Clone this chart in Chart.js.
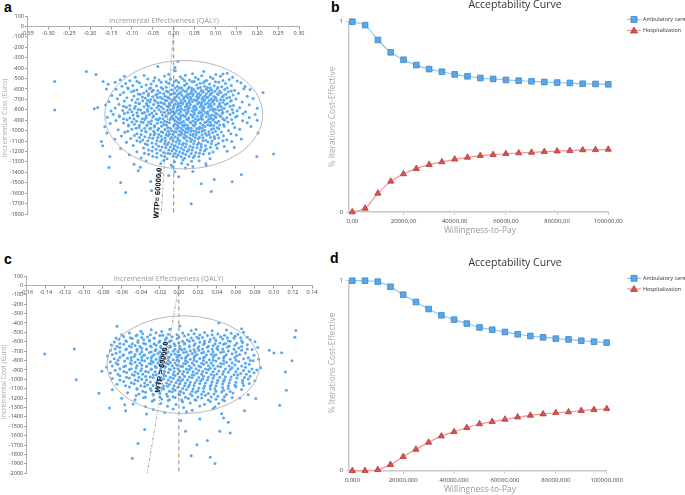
<!DOCTYPE html>
<html>
<head>
<meta charset="utf-8">
<script src="https://cdn.jsdelivr.net/npm/chart.js@4.4.1/dist/chart.umd.min.js"></script>
<style>
  body { margin: 0; width: 685px; height: 495px; overflow: hidden; background: #fff; position: relative; }
  canvas { position: absolute; }
  .panel { position: absolute; font: bold 14px "Liberation Sans", Arial, sans-serif; line-height: 14px; color: #000; }
</style>
</head>
<body>
<div class="panel" style="left:4px;top:0px">a</div>
<div class="panel" style="left:331px;top:0px">b</div>
<div class="panel" style="left:4px;top:252px">c</div>
<div class="panel" style="left:330px;top:251px">d</div>
<canvas id="scatterA" width="320" height="240" style="left:0;top:0"></canvas>
<canvas id="scatterC" width="330" height="240" style="left:0;top:255px"></canvas>
<canvas id="curveB" width="385" height="245" style="left:300px;top:0"></canvas>
<canvas id="curveD" width="385" height="245" style="left:300px;top:250px"></canvas>
<script>
// Dados
const FONT = '"Open Sans", "Noto Sans", sans-serif';

// a - plano custo-efetividade (efeito QALY, custo Euro)
const xTicksA = [-0.35, -0.30, -0.25, -0.20, -0.15, -0.10, -0.05, 0.00, 0.05, 0.10, 0.15, 0.20, 0.25, 0.30];
const yTicksA = [100, 0, -100, -200, -300, -400, -500, -600, -700, -800, -900, -1000, -1100, -1200, -1300, -1400, -1500, -1600, -1700, -1800];
const ellipseA = { cx: 0.024, cy: -847, rx: 0.189, ry: 520 };
const wtpLineA = [[0, 0], [-0.03, -1800]];
const zeroLineA = [[0, 0], [0, -1800]];
const pointsA = [
  [0.010,-336],[-0.038,-384],[0.003,-395],[-0.209,-432],[-0.186,-462],[0.072,-432],[0.004,-425],
  [-0.285,-528],[-0.285,-802],[-0.19,-790],[-0.182,-778],[-0.169,-528],[-0.161,-600],[-0.157,-555],
  [-0.173,-1104],[-0.170,-1145],[-0.153,-1248],[-0.155,-1353],[-0.127,-1497],[-0.115,-1593],
  [-0.085,-1385],[-0.055,-1487],[-0.053,-1575],[-0.035,-1415],[0.042,-1701],[0.066,-1510],[0.090,-1583],
  [0.097,-1470],[0.140,-1490],[0.162,-1423],[0.199,-1248],[0.239,-1225],[0.214,-633],[0.202,-1023],
  [0.046,-1391],[0.078,-1337],[-0.012,-1430],[0.012,-1442],[-0.035,-1385],[0.003,-1395],
  [-0.118,-478],[-0.092,-488],[-0.071,-470],[-0.045,-492],[-0.022,-476],[0.016,-482],[0.028,-468],[0.052,-490],
  [0.067,-474],[0.088,-485],[0.101,-462],[0.112,-478],[0.118,-456],[0.128,-450],[0.141,-488],[-0.012,-458],[0.045,-455],
  [-0.128,-512],[-0.105,-522],[-0.062,-505],[-0.035,-515],[-0.008,-508],[0.006,-520],[0.021,-503],[0.038,-514],
  [0.059,-506],[0.079,-518],[0.094,-500],[0.133,-510],[0.152,-523],[-0.14,-535],
  [-0.115,-548],[-0.082,-540],[-0.054,-552],[-0.03,-536],[-0.012,-545],[0.012,-538],[0.031,-550],[0.044,-532],
  [0.063,-546],[0.071,-540],[0.086,-553],[0.108,-535],[0.124,-547],[0.161,-540],
  [-0.124,-574],[-0.098,-566],[-0.077,-580],[-0.066,-562],[-0.041,-572],[-0.018,-583],[-0.003,-565],[0.009,-577],
  [0.026,-568],[0.037,-581],[0.055,-563],[0.074,-575],[0.081,-586],[0.097,-570],[0.115,-578],[0.138,-566],[0.171,-576],
  [-0.138,-604],[-0.109,-598],[-0.088,-610],[-0.058,-596],[-0.049,-612],[-0.026,-601],[-0.005,-607],[0.014,-594],
  [0.022,-611],[0.034,-599],[0.048,-606],[0.058,-593],[0.066,-615],[0.078,-602],[0.091,-609],[0.104,-597],
  [0.122,-605],[0.146,-612],[0.168,-598],[0.183,-606],
  [-0.12,-634],[-0.101,-627],[-0.072,-640],[-0.052,-625],[-0.033,-636],[-0.014,-629],[0.003,-642],[0.017,-631],
  [0.028,-623],[0.041,-638],[0.052,-628],[0.061,-644],[0.07,-632],[0.083,-625],[0.092,-639],[0.099,-621],
  [0.113,-635],[0.131,-628],[0.155,-641],
  [-0.148,-662],[-0.128,-655],[-0.095,-668],[-0.08,-652],[-0.061,-664],[-0.043,-658],[-0.021,-671],[-0.008,-654],
  [0.008,-666],[0.019,-657],[0.029,-669],[0.036,-651],[0.046,-663],[0.055,-674],[0.064,-656],[0.075,-667],
  [0.087,-659],[0.096,-672],[0.107,-653],[0.119,-665],[0.142,-658],[0.176,-670],
  [-0.135,-694],[-0.112,-685],[-0.086,-698],[-0.068,-688],[-0.055,-701],[-0.039,-683],[-0.027,-695],[-0.011,-689],
  [0.001,-702],[0.013,-686],[0.024,-697],[0.033,-681],[0.042,-693],[0.05,-704],[0.059,-687],[0.068,-699],
  [0.079,-684],[0.09,-696],[0.101,-690],[0.112,-703],[0.127,-686],[0.149,-697],[0.19,-692],
  [-0.155,-722],[-0.118,-716],[-0.091,-729],[-0.074,-713],[-0.057,-725],[-0.044,-718],[-0.031,-731],[-0.017,-714],
  [-0.004,-726],[0.006,-719],[0.016,-733],[0.027,-715],[0.037,-727],[0.045,-720],[0.053,-712],[0.062,-729],
  [0.072,-717],[0.081,-734],[0.093,-721],[0.104,-714],[0.118,-728],[0.136,-719],[0.164,-725],
  [-0.163,-754],[-0.131,-746],[-0.105,-758],[-0.083,-743],[-0.064,-755],[-0.048,-749],[-0.036,-762],[-0.022,-745],
  [-0.009,-757],[0.004,-748],[0.011,-761],[0.021,-744],[0.031,-756],[0.04,-750],[0.049,-763],[0.057,-742],
  [0.066,-755],[0.076,-747],[0.085,-759],[0.097,-744],[0.109,-756],[0.124,-749],[0.143,-760],[0.181,-752],
  [-0.14,-782],[-0.113,-775],[-0.094,-788],[-0.071,-772],[-0.053,-785],[-0.04,-778],[-0.025,-791],[-0.013,-774],
  [-0.001,-786],[0.009,-779],[0.019,-792],[0.028,-773],[0.038,-784],[0.047,-777],[0.055,-790],[0.063,-771],
  [0.073,-783],[0.083,-776],[0.094,-789],[0.106,-774],[0.121,-786],[0.158,-780],[0.2,-785],
  [-0.15,-812],[-0.122,-806],[-0.1,-818],[-0.079,-803],[-0.062,-815],[-0.046,-809],[-0.03,-821],[-0.016,-804],
  [-0.003,-816],[0.008,-808],[0.017,-822],[0.026,-805],[0.035,-817],[0.044,-810],[0.053,-802],[0.062,-819],
  [0.071,-807],[0.082,-820],[0.095,-811],[0.108,-804],[0.128,-816],[0.152,-809],[0.172,-818],
  [-0.145,-842],[-0.118,-836],[-0.097,-849],[-0.075,-833],[-0.058,-845],[-0.041,-838],[-0.027,-851],[-0.012,-834],
  [0.001,-846],[0.012,-839],[0.022,-852],[0.032,-835],[0.041,-847],[0.05,-840],[0.06,-832],[0.07,-849],
  [0.081,-837],[0.092,-850],[0.104,-841],[0.116,-834],[0.135,-846],[0.166,-839],[0.195,-845],
  [-0.159,-872],[-0.13,-866],[-0.105,-879],[-0.085,-863],[-0.066,-875],[-0.05,-868],[-0.034,-881],[-0.019,-864],
  [-0.006,-876],[0.006,-869],[0.016,-882],[0.026,-865],[0.036,-877],[0.046,-870],[0.057,-862],[0.067,-879],
  [0.078,-867],[0.089,-880],[0.101,-871],[0.113,-864],[0.127,-876],[0.148,-869],[0.181,-874],
  [-0.138,-902],[-0.112,-896],[-0.089,-909],[-0.069,-893],[-0.053,-905],[-0.037,-898],[-0.022,-911],[-0.009,-894],
  [0.004,-906],[0.014,-899],[0.024,-912],[0.035,-895],[0.046,-907],[0.058,-900],[0.069,-892],[0.081,-909],
  [0.094,-897],[0.108,-910],[0.122,-901],[0.139,-894],[0.165,-906],[0.2,-900],
  [-0.152,-932],[-0.12,-926],[-0.094,-939],[-0.073,-923],[-0.055,-935],[-0.039,-928],[-0.024,-941],[-0.01,-924],
  [0.003,-936],[0.015,-929],[0.027,-942],[0.04,-925],[0.052,-937],[0.064,-930],[0.076,-922],[0.089,-939],
  [0.103,-927],[0.119,-940],[0.142,-931],[0.176,-925],
  [-0.165,-962],[-0.108,-956],[-0.083,-969],[-0.064,-953],[-0.046,-965],[-0.029,-958],[-0.014,-971],[0.0,-954],
  [0.012,-966],[0.024,-959],[0.036,-972],[0.049,-955],[0.062,-967],[0.075,-960],[0.088,-952],[0.104,-969],
  [0.121,-957],[0.146,-970],[0.185,-961],
  [-0.133,-992],[-0.1,-986],[-0.077,-999],[-0.057,-983],[-0.038,-995],[-0.021,-988],[-0.005,-1001],[0.009,-984],
  [0.022,-996],[0.035,-989],[0.048,-1002],[0.061,-985],[0.074,-997],[0.09,-990],[0.108,-982],[0.131,-999],[0.158,-987],
  [-0.16,-1022],[-0.117,-1016],[-0.088,-1029],[-0.066,-1013],[-0.045,-1025],[-0.026,-1018],[-0.01,-1031],[0.006,-1014],
  [0.019,-1026],[0.033,-1019],[0.047,-1032],[0.06,-1015],[0.076,-1027],[0.093,-1020],[0.114,-1012],[0.137,-1029],
  [-0.125,-1052],[-0.094,-1046],[-0.069,-1059],[-0.047,-1043],[-0.03,-1055],[-0.013,-1048],[0.003,-1061],[0.017,-1044],
  [0.031,-1056],[0.046,-1049],[0.062,-1062],[0.079,-1045],[0.097,-1057],[0.119,-1050],[0.15,-1042],
  [-0.141,-1082],[-0.103,-1076],[-0.074,-1089],[-0.05,-1073],[-0.028,-1085],[-0.008,-1078],[0.01,-1091],[0.026,-1074],
  [0.043,-1086],[0.059,-1079],[0.077,-1092],[0.098,-1075],[0.127,-1087],[0.162,-1080],
  [-0.113,-1112],[-0.08,-1106],[-0.052,-1119],[-0.031,-1103],[-0.012,-1115],[0.006,-1108],[0.023,-1121],[0.041,-1104],
  [0.06,-1116],[0.082,-1109],[0.107,-1122],[0.139,-1105],
  [-0.097,-1142],[-0.063,-1136],[-0.036,-1149],[-0.015,-1133],[0.004,-1145],[0.021,-1138],[0.039,-1151],[0.057,-1134],
  [0.076,-1146],[0.101,-1139],[0.121,-1152],
  [-0.127,-1172],[-0.072,-1166],[-0.042,-1179],[-0.019,-1163],[0.0,-1175],[0.018,-1168],[0.036,-1181],[0.056,-1164],
  [0.078,-1176],[0.104,-1169],[0.145,-1162],
  [-0.088,-1202],[-0.052,-1196],[-0.024,-1209],[-0.004,-1193],[0.014,-1205],[0.033,-1198],[0.053,-1211],[0.074,-1194],
  [0.094,-1206],[0.128,-1199],
  [-0.106,-1232],[-0.06,-1226],[-0.03,-1239],[-0.008,-1223],[0.011,-1235],[0.029,-1228],[0.05,-1241],[0.071,-1224],
  [-0.078,-1262],[-0.041,-1256],[-0.016,-1269],[0.007,-1253],[0.026,-1265],[0.047,-1258],[0.087,-1270],
  [-0.066,-1292],[-0.024,-1286],[0.002,-1299],[0.022,-1283],[0.043,-1295],[0.061,-1288],
  [-0.095,-1322],[-0.031,-1316],[-0.006,-1329],[0.019,-1313],[0.034,-1325],[0.077,-1318],
  [-0.08,-1352],[-0.002,-1346],[0.028,-1359],[0.046,-1343]
];
// núcleo denso da nuvem a (linhas intermediárias)
const pointsCoreA = [
  [-0.088,-527],[-0.048,-524],[-0.018,-530],[0.002,-526],[0.026,-522],[0.049,-529],[0.075,-524],[0.1,-531],[0.118,-520],
  [-0.11,-588],[-0.055,-590],[-0.03,-585],[0.003,-592],[0.018,-588],[0.043,-594],[0.064,-586],[0.088,-592],[0.106,-587],[0.128,-591],
  [-0.095,-618],[-0.065,-620],[-0.038,-617],[-0.017,-621],[0.008,-616],[0.03,-622],[0.043,-617],[0.07,-620],[0.085,-617],[0.11,-622],[0.138,-619],
  [-0.085,-648],[-0.06,-645],[-0.04,-650],[-0.024,-646],[-0.003,-649],[0.012,-646],[0.033,-650],[0.046,-646],[0.057,-650],[0.078,-647],[0.088,-651],[0.105,-646],[0.125,-650],
  [-0.075,-678],[-0.05,-676],[-0.032,-680],[-0.015,-677],[0.004,-681],[0.024,-678],[0.04,-680],[0.061,-677],[0.07,-681],[0.082,-678],[0.1,-680],[0.116,-677],[0.134,-679],
  [-0.1,-707],[-0.062,-708],[-0.046,-706],[-0.02,-709],[-0.005,-707],[0.018,-710],[0.038,-707],[0.056,-709],[0.074,-706],[0.085,-711],[0.096,-708],[0.12,-707],[0.138,-710],
  [-0.082,-737],[-0.065,-738],[-0.038,-736],[-0.025,-740],[-0.01,-737],[0.011,-739],[0.022,-736],[0.032,-740],[0.058,-738],[0.067,-736],[0.088,-741],[0.11,-737],[0.128,-739],
  [-0.12,-767],[-0.092,-768],[-0.06,-766],[-0.03,-770],[-0.016,-767],[0.0,-769],[0.016,-766],[0.035,-770],[0.052,-767],[0.07,-769],[0.09,-766],[0.114,-770],[0.135,-767],
  [-0.105,-797],[-0.085,-798],[-0.063,-796],[-0.035,-800],[-0.008,-797],[0.014,-799],[0.033,-796],[0.05,-800],[0.068,-797],[0.088,-799],[0.1,-796],[0.115,-800],[0.14,-797],
  [-0.11,-827],[-0.088,-828],[-0.07,-826],[-0.052,-830],[-0.022,-827],[-0.008,-829],[0.004,-826],[0.03,-830],[0.048,-827],[0.066,-829],[0.076,-826],[0.1,-830],[0.118,-827],[0.142,-829],
  [-0.13,-857],[-0.087,-858],[-0.066,-856],[-0.048,-860],[-0.018,-857],[-0.004,-859],[0.017,-856],[0.028,-860],[0.046,-857],[0.066,-859],[0.086,-856],[0.098,-860],[0.11,-857],[0.152,-859],
  [-0.12,-887],[-0.095,-888],[-0.075,-886],[-0.042,-890],[-0.026,-887],[-0.001,-889],[0.011,-886],[0.031,-890],[0.052,-887],[0.062,-889],[0.084,-886],[0.095,-890],[0.118,-887],
  [-0.1,-917],[-0.078,-918],[-0.06,-916],[-0.03,-920],[-0.016,-917],[0.009,-919],[0.02,-916],[0.04,-920],[0.052,-917],[0.075,-919],[0.087,-916],[0.1,-920],[0.13,-917],
  [-0.108,-947],[-0.082,-948],[-0.064,-946],[-0.046,-950],[-0.018,-947],[0.009,-949],[0.021,-946],[0.033,-950],[0.046,-947],[0.07,-949],[0.082,-946],[0.096,-950],[0.11,-947],
  [-0.09,-977],[-0.07,-978],[-0.055,-976],[-0.036,-980],[-0.008,-977],[0.006,-979],[0.018,-976],[0.03,-980],[0.042,-977],[0.055,-979],[0.068,-976],[0.095,-980],
  [-0.11,-1007],[-0.067,-1008],[-0.048,-1006],[-0.03,-1010],[-0.013,-1007],[0.002,-1009],[0.015,-1006],[0.028,-1010],[0.041,-1007],[0.054,-1009],[0.068,-1006],[0.084,-1010],[0.1,-1007],
  [-0.078,-1037],[-0.056,-1038],[-0.036,-1036],[-0.018,-1040],[-0.002,-1037],[0.012,-1039],[0.026,-1036],[0.04,-1040],[0.054,-1037],[0.068,-1039],[0.085,-1036],[0.105,-1040],
  [-0.082,-1067],[-0.058,-1068],[-0.038,-1066],[-0.021,-1070],[-0.005,-1067],[0.01,-1069],[0.024,-1066],[0.038,-1070],[0.052,-1067],[0.07,-1069],[0.088,-1066],[0.108,-1070],
  [-0.088,-1097],[-0.062,-1098],[-0.04,-1096],[-0.02,-1100],[-0.002,-1097],[0.015,-1099],[0.032,-1096],[0.05,-1100],[0.07,-1097],[0.092,-1099],[0.118,-1096],
  [-0.068,-1127],[-0.042,-1128],[-0.022,-1126],[-0.004,-1130],[0.013,-1127],[0.03,-1129],[0.048,-1126],[0.066,-1130],[0.09,-1127],
  [-0.05,-1157],[-0.028,-1158],[-0.008,-1156],[0.01,-1160],[0.028,-1157],[0.046,-1159],[0.066,-1156],[0.088,-1160],
  [-0.06,-1187],[-0.032,-1188],[-0.012,-1186],[0.006,-1190],[0.024,-1187],[0.044,-1189],[0.064,-1186],
  [-0.07,-1217],[-0.04,-1218],[-0.014,-1216],[0.004,-1220],[0.022,-1217],[0.042,-1219],[0.062,-1216],[0.085,-1220],
  [-0.05,-1247],[-0.022,-1248],[-0.001,-1246],[0.018,-1250],[0.037,-1247],[0.06,-1249]
];

// c - plano custo-efetividade, segundo cenário
const xTicksC = [-0.16, -0.14, -0.12, -0.10, -0.08, -0.06, -0.04, -0.02, 0.00, 0.02, 0.04, 0.06, 0.08, 0.10, 0.12, 0.14];
const yTicksC = [100, 0, -100, -200, -300, -400, -500, -600, -700, -800, -900, -1000, -1100, -1200, -1300, -1400, -1500, -1600, -1700, -1800, -1900, -2000];
const ellipseC = { cx: 0.0047, cy: -844, rx: 0.0804, ry: 521 };
const wtpLineC = [[0, 0], [-0.0333, -2000]];
const zeroLineC = [[0, 0], [0, -2000]];
const pointsC = [
  [-0.141,-730],[-0.110,-677],[-0.108,-1003],[-0.084,-1149],[-0.073,-1305],[-0.065,-436],[-0.081,-915],
  [-0.036,-1535],[-0.043,-1684],[-0.049,-1841],[-0.057,-1270],[-0.056,-1333],[0.002,-1437],[0.007,-1553],
  [0.022,-1422],[0.013,-1812],[0.019,-1695],[0.030,-1650],[0.033,-1830],[0.038,-1897],[0.047,-1411],[0.052,-1457],
  [0.043,-1553],[0.054,-1571],[0.069,-1333],[0.081,-1205],[0.095,-691],[0.100,-720],[0.108,-716],[0.106,-1277],
  [0.112,-921],[0.113,-1117],[0.119,-801],[0.123,-479],[0.122,-553],[0.042,-400],[0.064,-1198],
  [-0.029,-473],[-0.0095,-466],[0.001,-432],[0.013,-479],[0.018,-470],[-0.04,-488],[0.035,-484],[0.05,-476],[-0.018,-490],[0.066,-462],
  [-0.052,-508],[-0.038,-516],[-0.024,-503],[-0.011,-519],[0.004,-506],[0.016,-514],[0.027,-501],[0.041,-517],[0.055,-509],[0.068,-498],[-0.06,-525],
  [-0.058,-544],[-0.045,-536],[-0.033,-549],[-0.02,-533],[-0.007,-546],[0.006,-539],[0.019,-551],[0.03,-534],[0.044,-547],[0.059,-540],[0.072,-552],[-0.066,-560],
  [-0.063,-574],[-0.049,-566],[-0.037,-579],[-0.026,-563],[-0.014,-576],[-0.002,-569],[0.009,-581],[0.021,-565],[0.033,-577],[0.046,-570],[0.058,-562],[0.075,-578],
  [-0.068,-602],[-0.055,-596],[-0.043,-609],[-0.031,-593],[-0.021,-605],[-0.01,-598],[0.0,-611],[0.011,-594],[0.022,-606],[0.032,-599],[0.043,-612],[0.054,-595],[0.067,-607],[0.08,-600],
  [-0.071,-634],[-0.058,-627],[-0.046,-639],[-0.035,-624],[-0.024,-636],[-0.014,-629],[-0.004,-641],[0.006,-625],[0.016,-637],[0.026,-630],[0.036,-643],[0.047,-626],[0.059,-638],[0.072,-631],
  [-0.062,-662],[-0.05,-656],[-0.039,-668],[-0.029,-653],[-0.019,-665],[-0.009,-658],[0.001,-671],[0.011,-654],[0.02,-666],[0.03,-659],[0.04,-672],[0.051,-655],[0.063,-667],[0.083,-660],
  [-0.072,-692],[-0.056,-686],[-0.044,-699],[-0.034,-683],[-0.025,-695],[-0.016,-688],[-0.006,-701],[0.003,-684],[0.012,-696],[0.021,-689],[0.031,-702],[0.041,-685],[0.052,-697],[0.066,-690],[0.077,-682],
  [-0.066,-722],[-0.052,-716],[-0.041,-729],[-0.031,-713],[-0.022,-725],[-0.013,-718],[-0.004,-731],[0.005,-714],[0.014,-726],[0.024,-719],[0.034,-732],[0.044,-715],[0.056,-727],[0.07,-720],
  [-0.075,-752],[-0.059,-746],[-0.047,-758],[-0.037,-743],[-0.028,-755],[-0.019,-748],[-0.01,-761],[-0.001,-744],[0.008,-756],[0.017,-749],[0.027,-762],[0.037,-745],[0.048,-757],[0.061,-750],[0.079,-744],
  [-0.068,-782],[-0.054,-776],[-0.043,-789],[-0.033,-773],[-0.024,-785],[-0.015,-778],[-0.006,-791],[0.003,-774],[0.012,-786],[0.022,-779],[0.032,-792],[0.042,-775],[0.054,-787],[0.068,-780],[0.084,-786],
  [-0.072,-812],[-0.057,-806],[-0.046,-818],[-0.036,-803],[-0.027,-815],[-0.018,-808],[-0.009,-821],[0.0,-804],[0.009,-816],[0.019,-809],[0.029,-822],[0.039,-805],[0.05,-817],[0.063,-810],[0.078,-803],
  [-0.064,-842],[-0.05,-836],[-0.039,-849],[-0.029,-833],[-0.02,-845],[-0.011,-838],[-0.002,-851],[0.007,-834],[0.016,-846],[0.026,-839],[0.036,-852],[0.047,-835],[0.059,-847],[0.074,-840],
  [-0.076,-872],[-0.058,-866],[-0.045,-879],[-0.034,-863],[-0.024,-875],[-0.014,-868],[-0.005,-881],[0.004,-864],[0.013,-876],[0.023,-869],[0.033,-882],[0.044,-865],[0.056,-877],[0.07,-870],[0.086,-876],
  [-0.067,-902],[-0.052,-896],[-0.04,-909],[-0.029,-893],[-0.019,-905],[-0.009,-898],[0.001,-911],[0.011,-894],[0.021,-906],[0.031,-899],[0.042,-912],[0.054,-895],[0.068,-907],[0.082,-900],
  [-0.072,-932],[-0.055,-926],[-0.043,-939],[-0.032,-923],[-0.021,-935],[-0.011,-928],[-0.001,-941],[0.009,-924],[0.019,-936],[0.029,-929],[0.04,-942],[0.052,-925],[0.065,-937],[0.079,-930],
  [-0.062,-962],[-0.047,-956],[-0.035,-969],[-0.024,-953],[-0.014,-965],[-0.004,-958],[0.006,-971],[0.016,-954],[0.026,-966],[0.037,-959],[0.049,-972],[0.062,-955],[0.075,-967],
  [-0.07,-992],[-0.052,-986],[-0.039,-999],[-0.027,-983],[-0.016,-995],[-0.006,-988],[0.004,-1001],[0.014,-984],[0.025,-996],[0.036,-989],[0.048,-1002],[0.061,-985],[0.073,-997],
  [-0.058,-1022],[-0.043,-1016],[-0.03,-1029],[-0.019,-1013],[-0.008,-1025],[0.002,-1018],[0.012,-1031],[0.023,-1014],[0.035,-1026],[0.047,-1019],[0.06,-1032],[0.08,-1015],
  [-0.065,-1052],[-0.047,-1046],[-0.033,-1059],[-0.021,-1043],[-0.01,-1055],[0.001,-1048],[0.011,-1061],[0.022,-1044],[0.034,-1056],[0.046,-1049],[0.059,-1062],[0.074,-1045],
  [-0.052,-1082],[-0.036,-1076],[-0.023,-1089],[-0.012,-1073],[-0.001,-1085],[0.01,-1078],[0.021,-1091],[0.033,-1074],[0.046,-1086],[0.06,-1079],
  [-0.07,-1112],[-0.044,-1106],[-0.029,-1119],[-0.016,-1103],[-0.004,-1115],[0.008,-1108],[0.02,-1121],[0.033,-1104],[0.047,-1116],[0.066,-1109],
  [-0.054,-1142],[-0.035,-1136],[-0.02,-1149],[-0.007,-1133],[0.005,-1145],[0.018,-1138],[0.031,-1151],[0.045,-1134],[0.057,-1146],
  [-0.045,-1172],[-0.027,-1166],[-0.012,-1179],[0.001,-1163],[0.014,-1175],[0.028,-1168],[0.041,-1181],[0.073,-1164],
  [-0.06,-1202],[-0.037,-1196],[-0.018,-1209],[-0.004,-1193],[0.01,-1205],[0.024,-1198],[0.039,-1211],[0.056,-1194],
  [-0.028,-1232],[-0.011,-1226],[0.004,-1239],[0.018,-1223],[0.033,-1235],[0.048,-1228],
  [-0.048,-1262],[-0.019,-1256],[-0.003,-1269],[0.012,-1253],[0.027,-1265],[0.042,-1258],
  [-0.035,-1292],[-0.012,-1286],[0.005,-1299],[0.022,-1283],[0.038,-1295],
  [-0.027,-1322],[-0.006,-1316],[0.014,-1329],[0.036,-1313],
  [-0.015,-1352],[0.008,-1346],[-0.034,-1370],[0.045,-1365]
];
// núcleo denso da nuvem c (linhas intermediárias)
const pointsCoreC = [
  [-0.044,-527],[-0.03,-524],[-0.017,-530],[-0.002,-526],[0.01,-522],[0.022,-529],[0.035,-524],[0.048,-531],[0.062,-520],
  [-0.051,-557],[-0.039,-554],[-0.026,-560],[-0.013,-556],[0.0,-552],[0.013,-559],[0.025,-554],[0.037,-561],[0.051,-556],[0.065,-558],
  [-0.056,-588],[-0.043,-590],[-0.031,-585],[-0.02,-592],[-0.008,-588],[0.004,-594],[0.015,-586],[0.027,-592],[0.039,-587],[0.052,-591],[0.066,-589],
  [-0.062,-618],[-0.049,-620],[-0.037,-617],[-0.026,-621],[-0.015,-616],[-0.005,-622],[0.006,-617],[0.017,-620],[0.027,-617],[0.038,-622],[0.049,-619],[0.061,-616],
  [-0.065,-648],[-0.052,-645],[-0.041,-650],[-0.03,-646],[-0.019,-649],[-0.009,-646],[0.001,-650],[0.011,-646],[0.021,-650],[0.031,-647],[0.041,-651],[0.053,-646],[0.066,-650],
  [-0.067,-678],[-0.055,-676],[-0.044,-680],[-0.034,-677],[-0.024,-681],[-0.014,-678],[-0.004,-680],[0.006,-677],[0.016,-681],[0.025,-678],[0.035,-680],[0.046,-677],[0.058,-679],[0.072,-676],
  [-0.062,-707],[-0.05,-708],[-0.039,-706],[-0.029,-709],[-0.02,-707],[-0.011,-710],[-0.001,-707],[0.008,-709],[0.017,-706],[0.026,-711],[0.036,-708],[0.047,-707],[0.06,-710],
  [-0.07,-737],[-0.058,-738],[-0.046,-736],[-0.036,-740],[-0.026,-737],[-0.017,-739],[-0.008,-736],[0.001,-740],[0.01,-738],[0.019,-736],[0.029,-741],[0.039,-737],[0.05,-739],[0.064,-736],
  [-0.062,-767],[-0.05,-768],[-0.039,-766],[-0.029,-770],[-0.02,-767],[-0.011,-769],[-0.002,-766],[0.007,-770],[0.016,-767],[0.026,-769],[0.036,-766],[0.047,-770],[0.059,-767],[0.073,-769],
  [-0.064,-797],[-0.05,-798],[-0.039,-796],[-0.029,-800],[-0.02,-797],[-0.011,-799],[-0.002,-796],[0.007,-800],[0.016,-797],[0.026,-799],[0.036,-796],[0.047,-800],[0.06,-797],[0.075,-799],
  [-0.066,-827],[-0.051,-828],[-0.041,-826],[-0.031,-830],[-0.022,-827],[-0.013,-829],[-0.004,-826],[0.005,-830],[0.014,-827],[0.024,-829],[0.034,-826],[0.044,-830],[0.056,-827],[0.07,-829],
  [-0.07,-857],[-0.056,-858],[-0.044,-856],[-0.034,-860],[-0.025,-857],[-0.016,-859],[-0.007,-856],[0.002,-860],[0.011,-857],[0.021,-859],[0.031,-856],[0.041,-860],[0.053,-857],[0.066,-859],
  [-0.062,-887],[-0.05,-888],[-0.039,-886],[-0.029,-890],[-0.019,-887],[-0.01,-889],[-0.001,-886],[0.008,-890],[0.018,-887],[0.028,-889],[0.038,-886],[0.049,-890],[0.062,-887],[0.077,-889],
  [-0.058,-917],[-0.046,-918],[-0.035,-916],[-0.025,-920],[-0.015,-917],[-0.005,-919],[0.005,-916],[0.015,-920],[0.025,-917],[0.036,-919],[0.047,-916],[0.06,-920],[0.074,-917],
  [-0.064,-947],[-0.049,-948],[-0.038,-946],[-0.027,-950],[-0.016,-947],[-0.006,-949],[0.004,-946],[0.014,-950],[0.024,-947],[0.034,-949],[0.046,-946],[0.058,-950],[0.071,-947],
  [-0.055,-977],[-0.042,-978],[-0.03,-976],[-0.019,-980],[-0.009,-977],[0.001,-979],[0.011,-976],[0.021,-980],[0.031,-977],[0.043,-979],[0.055,-976],[0.069,-980],
  [-0.062,-1007],[-0.046,-1008],[-0.034,-1006],[-0.022,-1010],[-0.011,-1007],[-0.001,-1009],[0.009,-1006],[0.019,-1010],[0.03,-1007],[0.041,-1009],[0.054,-1006],[0.067,-1010],
  [-0.05,-1037],[-0.036,-1038],[-0.024,-1036],[-0.013,-1040],[-0.003,-1037],[0.007,-1039],[0.017,-1036],[0.028,-1040],[0.04,-1037],[0.053,-1039],[0.067,-1036],
  [-0.056,-1067],[-0.04,-1068],[-0.027,-1066],[-0.016,-1070],[-0.005,-1067],[0.006,-1069],[0.016,-1066],[0.027,-1070],[0.039,-1067],[0.052,-1069],[0.068,-1066],
  [-0.044,-1097],[-0.03,-1098],[-0.017,-1096],[-0.006,-1100],[0.004,-1097],[0.015,-1099],[0.026,-1096],[0.038,-1100],[0.052,-1097],
  [-0.038,-1127],[-0.023,-1128],[-0.01,-1126],[0.002,-1130],[0.014,-1127],[0.026,-1129],[0.039,-1126],[0.054,-1130],
  [-0.042,-1157],[-0.027,-1158],[-0.013,-1156],[0.0,-1160],[0.012,-1157],[0.024,-1159],[0.037,-1156],[0.05,-1160],
  [-0.035,-1187],[-0.02,-1188],[-0.006,-1186],[0.007,-1190],[0.02,-1187],[0.034,-1189],[0.048,-1186],
  [-0.046,-1217],[-0.026,-1218],[-0.01,-1216],[0.003,-1220],[0.017,-1217],[0.031,-1219],[0.046,-1216]
];

// b / d - curvas de aceitabilidade
const wtpValues = [0, 5000, 10000, 15000, 20000, 25000, 30000, 35000, 40000, 45000, 50000,
  55000, 60000, 65000, 70000, 75000, 80000, 85000, 90000, 95000, 100000];
const ambulatoryB = [1.0, 0.982, 0.904, 0.839, 0.800, 0.772, 0.751, 0.737, 0.723, 0.713, 0.704,
  0.699, 0.694, 0.690, 0.687, 0.683, 0.680, 0.678, 0.674, 0.673, 0.671];
const hospitalB = [0.0, 0.019, 0.098, 0.161, 0.200, 0.228, 0.249, 0.263, 0.277, 0.287, 0.296,
  0.301, 0.306, 0.310, 0.313, 0.317, 0.320, 0.322, 0.326, 0.327, 0.329];
const ambulatoryD = [1.0, 1.0, 0.995, 0.968, 0.926, 0.888, 0.851, 0.818, 0.795, 0.774, 0.754,
  0.742, 0.730, 0.718, 0.709, 0.702, 0.695, 0.691, 0.684, 0.679, 0.674];
const hospitalD = [0.0, 0.0, 0.005, 0.032, 0.074, 0.112, 0.149, 0.182, 0.205, 0.226, 0.246,
  0.258, 0.270, 0.282, 0.291, 0.298, 0.305, 0.309, 0.316, 0.321, 0.326];
const wtpTicks = [0, 20000, 40000, 60000, 80000, 100000];
const wtpLabelsB = ['0,00', '20000,00', '40000,00', '60000,00', '80000,00', '100000,00'];
const wtpLabelsD = ['0,000', '20000,000', '40000,000', '60000,000', '80000,000', '100000,000'];
const seriesNames = ['Ambulatory care', 'Hospitalization'];

// Plugin: textos soltos (títulos de eixo, rótulos) em coordenadas do canvas
const textPlugin = {
    id: 'texts',
    afterDraw(chart, args, opts) {
        const ctx = chart.ctx;
        (opts.items || []).forEach(t => {
            ctx.save();
            ctx.translate(t.x, t.y);
            if (t.rot) ctx.rotate(t.rot * Math.PI / 180);
            ctx.font = t.font;
            ctx.fillStyle = t.color;
            ctx.textAlign = t.align || 'center';
            ctx.textBaseline = 'middle';
            ctx.fillText(t.text, 0, 0);
            ctx.restore();
        });
    }
};

// Plugin: elipse de confiança desenhada pelas escalas
const ellipsePlugin = {
    id: 'ellipse',
    afterDatasetsDraw(chart, args, opts) {
        if (opts.cx === undefined) return;
        const { x, y } = chart.scales;
        const ctx = chart.ctx;
        const cx = x.getPixelForValue(opts.cx);
        const cy = y.getPixelForValue(opts.cy);
        const rx = Math.abs(x.getPixelForValue(opts.cx + opts.rx) - cx);
        const ry = Math.abs(y.getPixelForValue(opts.cy + opts.ry) - cy);
        ctx.save();
        ctx.strokeStyle = '#b8b8b8';
        ctx.lineWidth = 1;
        ctx.beginPath();
        ctx.ellipse(cx, cy, rx, ry, 0, 0, Math.PI * 2);
        ctx.stroke();
        ctx.restore();
    }
};

// Plugin: legenda manual à direita
const legendPlugin = {
    id: 'sideLegend',
    afterDraw(chart, args, opts) {
        if (!opts.items) return;
        const ctx = chart.ctx;
        opts.items.forEach(it => {
            ctx.save();
            ctx.strokeStyle = it.line;
            ctx.lineWidth = 1.2;
            ctx.beginPath();
            ctx.moveTo(it.x - 7, it.y);
            ctx.lineTo(it.x + 7, it.y);
            ctx.stroke();
            ctx.fillStyle = it.fill;
            ctx.strokeStyle = it.border;
            ctx.lineWidth = 0.8;
            ctx.beginPath();
            if (it.shape === 'rect') {
                ctx.rect(it.x - 3, it.y - 3, 6, 6);
            } else {
                ctx.moveTo(it.x, it.y - 3.5);
                ctx.lineTo(it.x + 3.5, it.y + 2.5);
                ctx.lineTo(it.x - 3.5, it.y + 2.5);
                ctx.closePath();
            }
            ctx.fill();
            ctx.stroke();
            ctx.font = '5.5px ' + FONT;
            ctx.fillStyle = '#333';
            ctx.textAlign = 'left';
            ctx.textBaseline = 'middle';
            ctx.fillText(it.label, it.x + 9, it.y);
            ctx.restore();
        });
    }
};

function toXY(pairs) {
    return pairs.map(p => ({ x: p[0], y: p[1] }));
}

function fmtEffect(v) {
    if (Math.abs(v) < 1e-9) return '0.00';
    return v.toFixed(2);
}

// Gráfico de dispersão custo-efetividade
function createScatterChart(id, cfg) {
    const xMin = cfg.xTicks[0], xMax = cfg.xTicks[cfg.xTicks.length - 1];
    const yMax = cfg.yTicks[0], yMin = cfg.yTicks[cfg.yTicks.length - 1];
    return new Chart(document.getElementById(id), {
        type: 'scatter',
        data: {
            datasets: [
                {
                    data: toXY(cfg.points),
                    pointRadius: 1.5,
                    pointBackgroundColor: '#5aa9f0',
                    pointBorderWidth: 0,
                    order: 3
                },
                {
                    data: toXY(cfg.zeroLine),
                    showLine: true,
                    borderColor: '#8a8a8a',
                    borderWidth: 1,
                    borderDash: [4, 3],
                    pointRadius: 0,
                    order: 1
                },
                {
                    data: toXY(cfg.wtpLine),
                    showLine: true,
                    borderColor: '#8f8f8f',
                    borderWidth: 0.8,
                    borderDash: [3, 1.5, 1, 1.5],
                    pointRadius: 0,
                    order: 2
                }
            ]
        },
        options: {
            responsive: false,
            animation: false,
            layout: { padding: cfg.pad },
            plugins: {
                legend: { display: false },
                tooltip: { enabled: false },
                ellipse: cfg.ellipse,
                texts: { items: cfg.texts }
            },
            scales: {
                x: {
                    type: 'linear',
                    position: { y: 0 },
                    min: xMin,
                    max: xMax,
                    afterBuildTicks: s => { s.ticks = cfg.xTicks.map(v => ({ value: v })); },
                    afterFit: s => { s.paddingLeft = 0; s.paddingRight = 0; },
                    ticks: {
                        autoSkip: false, maxRotation: 0, padding: 1,
                        color: '#444', font: { family: FONT, size: 5.5 },
                        callback: v => fmtEffect(v)
                    },
                    grid: { drawOnChartArea: false, tickLength: 2.5, color: '#999' },
                    border: { color: '#b0b0b0' }
                },
                y: {
                    type: 'linear',
                    min: yMin,
                    max: yMax,
                    afterBuildTicks: s => { s.ticks = cfg.yTicks.map(v => ({ value: v })); },
                    afterFit: s => { s.width = cfg.yWidth; s.paddingTop = 0; s.paddingBottom = 0; },
                    ticks: {
                        autoSkip: false, padding: 1,
                        color: '#444', font: { family: FONT, size: 5.5 },
                        callback: v => String(v)
                    },
                    grid: { drawOnChartArea: false, tickLength: 2.5, color: '#999' },
                    border: { color: '#b0b0b0' }
                }
            }
        },
        plugins: [ellipsePlugin, textPlugin]
    });
}

// Curva de aceitabilidade
function createAcceptabilityChart(id, cfg) {
    return new Chart(document.getElementById(id), {
        type: 'scatter',
        data: {
            datasets: [
                {
                    label: seriesNames[0],
                    data: wtpValues.map((w, i) => ({ x: w, y: cfg.ambulatory[i] })),
                    showLine: true,
                    tension: 0.25,
                    borderColor: '#8cc6f0',
                    borderWidth: 1.2,
                    pointStyle: 'rect',
                    pointRadius: 4,
                    pointBackgroundColor: '#5ba6e6',
                    pointBorderColor: '#3a86cc',
                    pointBorderWidth: 0.8,
                    clip: false
                },
                {
                    label: seriesNames[1],
                    data: wtpValues.map((w, i) => ({ x: w, y: cfg.hospital[i] })),
                    showLine: true,
                    tension: 0.25,
                    borderColor: '#f09595',
                    borderWidth: 1.2,
                    pointStyle: 'triangle',
                    pointRadius: 3.6,
                    pointBackgroundColor: '#d9534f',
                    pointBorderColor: '#b13b37',
                    pointBorderWidth: 0.8,
                    clip: false
                }
            ]
        },
        options: {
            responsive: false,
            animation: false,
            layout: { padding: cfg.pad },
            plugins: {
                legend: { display: false },
                tooltip: { enabled: false },
                texts: { items: cfg.texts },
                sideLegend: { items: cfg.legend }
            },
            scales: {
                x: {
                    type: 'linear',
                    min: -1300,
                    max: 100000,
                    afterBuildTicks: s => { s.ticks = wtpTicks.map(v => ({ value: v })); },
                    afterFit: s => { s.height = cfg.xHeight; s.paddingLeft = 0; s.paddingRight = 0; },
                    ticks: {
                        autoSkip: false, maxRotation: 0, padding: 3,
                        color: '#444', font: { family: FONT, size: 6 },
                        callback: (v, i) => cfg.xLabels[i]
                    },
                    grid: { drawOnChartArea: false, tickLength: 3, color: '#c8c8c8' },
                    border: { color: '#c8c8c8', width: 1.5 }
                },
                y: {
                    type: 'linear',
                    min: 0,
                    max: 1,
                    afterBuildTicks: s => { s.ticks = [{ value: 0 }, { value: 1 }]; },
                    afterFit: s => { s.width = cfg.yWidth; s.paddingTop = 0; s.paddingBottom = 0; },
                    ticks: {
                        autoSkip: false, padding: 3,
                        color: '#444', font: { family: FONT, size: 6 },
                        callback: v => String(v)
                    },
                    grid: { drawOnChartArea: false, tickLength: 3, color: '#c8c8c8' },
                    border: { color: '#c8c8c8', width: 1.5 }
                }
            }
        },
        plugins: [textPlugin, legendPlugin]
    });
}

function legendItems(y1, y2) {
    return [
        { label: seriesNames[0], x: 334, y: y1, shape: 'rect', fill: '#5ba6e6', border: '#3a86cc', line: '#8cc6f0' },
        { label: seriesNames[1], x: 334, y: y2, shape: 'tri', fill: '#d9534f', border: '#b13b37', line: '#f09595' }
    ];
}

const axisGrey = '#9a9a9a';

createScatterChart('scatterA', {
    points: pointsA.concat(pointsCoreA), zeroLine: zeroLineA, wtpLine: wtpLineA, ellipse: ellipseA,
    xTicks: xTicksA, yTicks: yTicksA,
    pad: { left: 0, top: 16, right: 21, bottom: 26 }, yWidth: 27.5,
    texts: [
        { text: 'Incremental Effectiveness (QALY)', x: 164, y: 20.5, font: '7.2px ' + FONT, color: axisGrey },
        { text: 'Incremental Cost (Euro)', x: 4.5, y: 118, rot: -90, font: '7.2px ' + FONT, color: '#aaa' },
        { text: 'WTP= 60000,0', x: 158, y: 193, rot: -86.5, font: 'bold 7.6px "Liberation Sans", Arial, sans-serif', color: '#111' }
    ]
});

createScatterChart('scatterC', {
    points: pointsC.concat(pointsCoreC), zeroLine: zeroLineC, wtpLine: wtpLineC, ellipse: ellipseC,
    xTicks: xTicksC, yTicks: yTicksC,
    pad: { left: 0, top: 21, right: 18, bottom: 21.7 }, yWidth: 26.7,
    texts: [
        { text: 'Incremental Effectiveness (QALY)', x: 168.5, y: 24.3, font: '7.2px ' + FONT, color: axisGrey },
        { text: 'Incremental Cost (Euro)', x: 4.5, y: 127, rot: -90, font: '6.8px ' + FONT, color: '#aaa' },
        { text: 'WTP = 60000,0', x: 162, y: 112, rot: -80.5, font: 'bold 7.4px "Liberation Sans", Arial, sans-serif', color: '#111' }
    ]
});

createAcceptabilityChart('curveB', {
    ambulatory: ambulatoryB, hospital: hospitalB, xLabels: wtpLabelsB,
    pad: { left: 0, top: 21.7, right: 76.7, bottom: 0 }, yWidth: 49, xHeight: 33,
    legend: legendItems(19.5, 30.5),
    texts: [
        { text: 'Acceptability Curve', x: 215, y: 5, font: '10.5px ' + FONT, color: '#333' },
        { text: 'Willingness-to-Pay', x: 180, y: 231, font: '8.5px ' + FONT, color: axisGrey },
        { text: '% Iterations Cost-Effective', x: 32.5, y: 117, rot: -90, font: '8.3px ' + FONT, color: '#aaa' }
    ]
});

createAcceptabilityChart('curveD', {
    ambulatory: ambulatoryD, hospital: hospitalD, xLabels: wtpLabelsD,
    pad: { left: 0, top: 30.7, right: 78.3, bottom: 0 }, yWidth: 49, xHeight: 24.3,
    legend: legendItems(28.3, 39),
    texts: [
        { text: 'Acceptability Curve', x: 215, y: 13.5, font: '10.5px ' + FONT, color: '#333' },
        { text: 'Willingness-to-Pay', x: 180, y: 240, font: '8.5px ' + FONT, color: axisGrey },
        { text: '% Iterations Cost-Effective', x: 32.5, y: 113, rot: -90, font: '8.3px ' + FONT, color: '#aaa' }
    ]
});
</script>
</body>
</html>
